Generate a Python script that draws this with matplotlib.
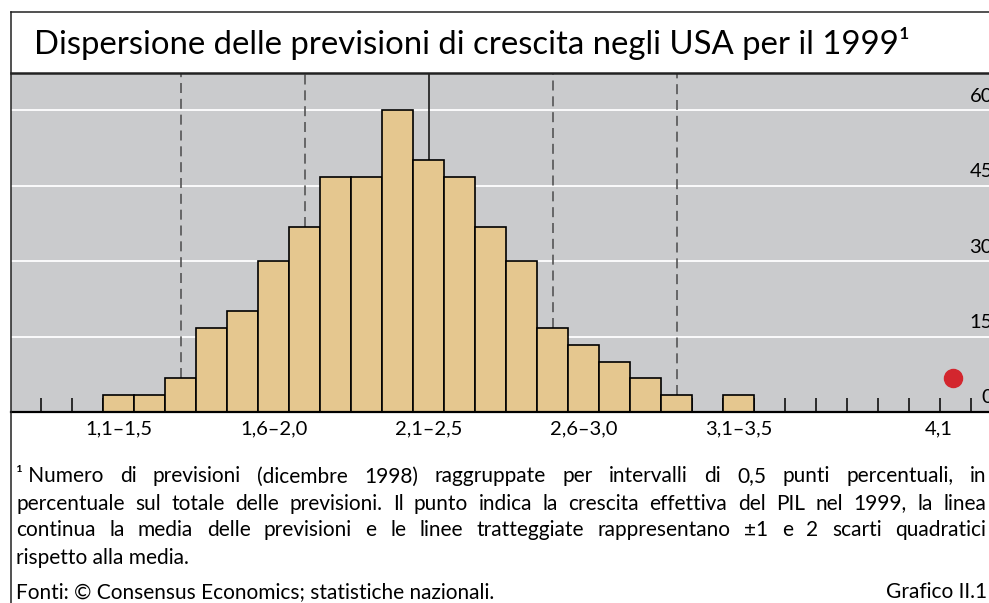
import numpy as np
import matplotlib
matplotlib.use('Agg')
import matplotlib.pyplot as plt
from matplotlib.lines import Line2D
from matplotlib.transforms import blended_transform_factory

plt.rcParams['font.family'] = ['Lato', 'DejaVu Sans']

# % di previsioni per intervallo (finestre di 0,5 punti, passo 0,1)
valori = [3.3, 3.3, 6.7, 16.7, 20.0, 30.0, 36.7, 46.7, 46.7, 60.0, 50.0,
          46.7, 36.7, 30.0, 16.7, 13.3, 10.0, 6.7, 3.3, 0.0, 3.3]
etichette = ['1,1–1,5', '1,6–2,0', '2,1–2,5', '2,6–3,0', '3,1–3,5', '4,1']
pos_etichette = [0, 5, 10, 15, 20, 26.45]
media = 10                   # barra della media
scarti = [2, 6, 14, 18]      # +-1 e 2 scarti quadratici
pil_x, pil_y = 26.9, 6.7     # crescita effettiva del PIL
yticks = [0, 15, 30, 45, 60]

W, H = 989, 603
fig = plt.figure(figsize=(W / 100, H / 100), dpi=100)

ax = fig.add_axes([11 / W, (H - 412) / H, (1010 - 11) / W, (412 - 73) / H])
ax.set_facecolor('#cacbcd')
x0 = -3.477
ax.set_xlim(x0, x0 + 999 / 31)
ax.set_ylim(0, 339 / 5.03)

for v in yticks[1:]:
    ax.axhline(v, color='white', lw=1.3, zorder=0.5)

x = np.arange(len(valori))
ax.bar(x, valori, width=1, color='#e5c78f', edgecolor='black', linewidth=1.2, zorder=2)

top = ax.get_ylim()[1]
ax.vlines(media, valori[media], top, color='#1a1a1a', lw=1.2, zorder=1)
for s in scarti:
    ax.vlines(s, valori[s], top, color='#555555', lw=1.2,
              linestyles=(0, (6, 3.5)), zorder=1)

ax.plot(pil_x, pil_y, 'o', ms=13, color='#d3262e', zorder=5, clip_on=False)

for sp in ['left', 'right']:
    ax.spines[sp].set_visible(False)
ax.spines['bottom'].set_linewidth(1.6)
ax.spines['top'].set_linewidth(1.8)
ax.spines['top'].set_color('#222222')

ax.set_xticks(pos_etichette)
ax.set_xticklabels(etichette, fontsize=14.5)
ax.tick_params(axis='x', which='major', length=0, pad=6)
ax.set_xticks(np.arange(-2.5, 29, 1), minor=True)
ax.tick_params(axis='x', which='minor', direction='in', length=10, width=1.1)
ax.set_yticks([])

tr = blended_transform_factory(fig.transFigure, ax.transData)
for v in yticks:
    ax.text(993 / W, v + 1.7, str(v), transform=tr, ha='right', va='baseline',
            fontsize=14.5, clip_on=False)

# cornice
fig.add_artist(Line2D([10.7 / W, 1], [1 - 12.3 / H] * 2, color='#222222', lw=1.1))
fig.add_artist(Line2D([10.7 / W] * 2, [0, 1 - 12.3 / H], color='#222222', lw=1.1))

fig.text(34 / W, 1 - 54 / H, 'Dispersione delle previsioni di crescita negli USA per il 1999¹',
         fontsize=23.7, va='baseline')

# nota giustificata
renderer = fig.canvas.get_renderer()
FS = 15


def riga(testo, y, size=FS):
    parole = testo.split(' ')
    objs = [fig.text(0, 1 - y / H, p, fontsize=size, va='baseline') for p in parole]
    larg = [o.get_window_extent(renderer).width for o in objs]
    gap = (986 - 16 - sum(larg)) / (len(parole) - 1)
    xp = 16
    for o, w in zip(objs, larg):
        o.set_x(xp / W)
        xp += w + gap


nota = ['¹\u00a0Numero di previsioni (dicembre 1998) raggruppate per intervalli di 0,5 punti percentuali, in',
        'percentuale sul totale delle previsioni. Il punto indica la crescita effettiva del PIL nel 1999, la linea',
        'continua la media delle previsioni e le linee tratteggiate rappresentano ±1 e 2 scarti quadratici']
for i, t in enumerate(nota):
    riga(t, 482.5 + 27 * i)
fig.text(16 / W, 1 - 563.5 / H, 'rispetto alla media.', fontsize=FS, va='baseline')

fig.text(16 / W, 1 - 598 / H, 'Fonti: © Consensus Economics; statistiche nazionali.',
         fontsize=FS, va='baseline')
fig.text(987 / W, 1 - 598 / H, 'Grafico II.1', fontsize=FS, va='baseline', ha='right')

fig.savefig('out.png', dpi=100)
